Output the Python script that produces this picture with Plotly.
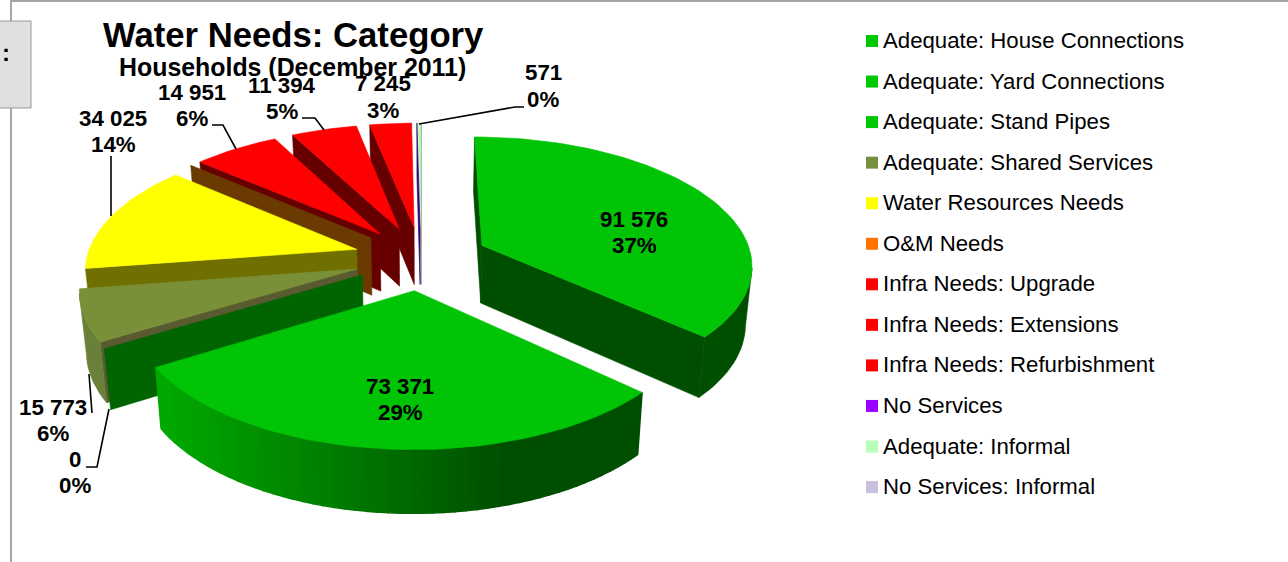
import math
import plotly.graph_objects as go

categories = ["Adequate: House Connections", "Adequate: Yard Connections", "Adequate: Stand Pipes",
              "Adequate: Shared Services", "Water Resources Needs", "O&M Needs", "Infra Needs: Upgrade",
              "Infra Needs: Extensions", "Infra Needs: Refurbishment", "No Services",
              "Adequate: Informal", "No Services: Informal"]
households = [91576, 73371, 0, 15773, 34025, 0, 14951, 11394, 7245, 0, 571, 0]
legend_colors = ["#00C800", "#00C800", "#00C800", "#778F3F", "#FFFF00", "#FF7400", "#FF0000", "#FF0000",
                 "#FF0000", "#9900FF", "#B8FFB8", "#C8C0DC"]
top_colors = ["#00C405", "#00C405", "#00C405", "#7A9038", "#FFFF00", "#FF7400", "#FF0000", "#FF0000",
              "#FF0000", "#9900FF", "#B8FFB8", "#C8C0DC"]
wall_colors = ["#004F00", "#004F00", "#006400", "#5A5A30", "#707000", "#6B3A00", "#660000", "#660000",
               "#660000", "#3A0080", "#90D090", "#6C6480"]
outer_wall_colors = ["#004F00", "#00A000", "#006400", "#6A7F38", "#707000", "#6B3A00", "#660000", "#660000",
                     "#660000", "#3A0080", "#90D090", "#6C6480"]
# value-label placement: category index, centre x, value-line y, percent-line y
label_slots = [(0, 634, 219, 245), (1, 400, 386, 412), (2, 75, 459, 485), (3, 53, 407, 433), (4, 113, 118, 144),
               (6, 192, 92, 118), (7, 282, 85, 111), (8, 383, 83, 110), (10, 543, 72, 99)]
leaders = [[(111, 156), (111, 216)], [(212, 125), (223, 125), (236, 149)], [(302, 118), (315, 118), (324, 130)],
           [(524, 107), (515, 107), (419, 124)], [(92, 413), (89, 374)], [(86, 467), (97, 467), (109, 409)]]

CX, CY, RX, RY, P, PULL, DEPTH, BASE_SHRINK = 421, 258, 270, 126.8, 0.139, 0.25, 58, 0.98
total = sum(households)


def project(X, Y, down=False):
    s = 1 / (1 - P * Y)
    px = CX + RX * X * s
    py = CY + RY * Y * s
    if down:
        py += DEPTH * s ** 0.5
        px = CX + (px - CX) * BASE_SHRINK
    return px, py


def mix(a, b, t):
    t = max(0, min(1, t))
    ca = [int(a[i:i + 2], 16) for i in (1, 3, 5)]
    cb = [int(b[i:i + 2], 16) for i in (1, 3, 5)]
    return "#%02X%02X%02X" % tuple(round(x + (y - x) * t) for x, y in zip(ca, cb))


fig = go.Figure()


def poly(points, color, name, width=0.6):
    fig.add_trace(go.Scatter(x=[p[0] for p in points] + [points[0][0]], y=[p[1] for p in points] + [points[0][1]],
                             mode="lines", fill="toself", fillcolor=color, line=dict(color=color, width=width),
                             hoverinfo="skip", showlegend=False, name=name))


def quad(a, b, color, name, width=0.6):
    poly([project(*a), project(*b), project(*b, True), project(*a, True)], color, name, width)


spans = []
acc = 0
for v in households:
    spans.append((acc / total * 2 * math.pi, (acc + v) / total * 2 * math.pi))
    acc += v

order = [11, 10, 9, 8, 7, 6, 5, 4, 3, 2, 1, 0]
for i in order:
    a0, a1 = spans[i]
    mid = (a0 + a1) / 2
    ox, oy = PULL * math.sin(mid), -PULL * math.cos(mid)
    n = max(2, int((a1 - a0) / math.radians(2)))
    rim = [(ox + math.sin(a0 + (a1 - a0) * k / n), oy - math.cos(a0 + (a1 - a0) * k / n)) for k in range(n + 1)]
    apex = (ox, oy)
    name = categories[i]
    if households[i] == 0:
        quad(apex, rim[0], wall_colors[i], name)
        continue
    for a, b in ((apex, rim[0]), (rim[-1], apex)):
        if project(*b)[0] < project(*a)[0]:
            quad(a, b, wall_colors[i], name)
    visible = [k for k in range(n) if project(*rim[k + 1])[0] < project(*rim[k])[0]]
    if visible and i == 1:
        for k in visible:
            a, b = rim[k], rim[k + 1]
            color = mix("#00A800", "#004F00", (project(*a)[0] - 170) / 340)
            quad(a, b, color, name, 1.4)
    elif visible:
        path = [rim[k] for k in visible] + [rim[visible[-1] + 1]]
        top = [project(*r) for r in path]
        bottom = [project(*r, True) for r in reversed(path)]
        poly(top + bottom, outer_wall_colors[i], name)
    poly([project(*apex)] + [project(*r) for r in rim], top_colors[i], name)

for path in leaders:
    fig.add_trace(go.Scatter(x=[p[0] for p in path], y=[p[1] for p in path], mode="lines",
                             line=dict(color="#000000", width=1.6), hoverinfo="skip", showlegend=False))

# key on the right: a square swatch and its name for every category
for k, (name, color) in enumerate(zip(categories, legend_colors)):
    row_y = 41 + 40.55 * k
    fig.add_trace(go.Scatter(x=[872], y=[row_y], mode="markers", name=name, hoverinfo="skip", showlegend=False,
                             marker=dict(symbol="square", size=12, color=color)))
    fig.add_trace(go.Scatter(x=[883], y=[row_y + 1.5], mode="text", name=name, text=[name],
                             textposition="middle right", hoverinfo="skip", showlegend=False,
                             textfont=dict(family="Liberation Sans", size=22.2, color="#000000")))

annotations = [
    dict(x=293, y=35, text="<b>Water Needs: Category</b>", font_size=34.7),
    dict(x=292, y=67, text="<b>Households (December 2011)</b>", font_size=24.9),
    dict(x=6, y=52, text="<b>:</b>", font_size=24),
]
for idx, x, y1, y2 in label_slots:
    value = f"{households[idx]:,}".replace(",", " ")
    pct = f"{round(households[idx] / total * 100)}%"
    annotations.append(dict(x=x, y=y1, text=f"<b>{value}</b>", font_size=22.3))
    annotations.append(dict(x=x, y=y2, text=f"<b>{pct}</b>", font_size=22.3))
ann = []
for a in annotations:
    size = a.pop("font_size")
    ann.append(dict(a, xref="x", yref="y", showarrow=False, xanchor="center", yanchor="middle",
                    font=dict(family="Liberation Sans", size=size, color="#000000")))

shapes = [
    dict(type="line", xref="x", yref="y", x0=10, x1=1288, y0=1, y1=1, line=dict(color="#A6A6A6", width=2), layer="below"),
    dict(type="line", xref="x", yref="y", x0=11, x1=11, y0=0, y1=562, line=dict(color="#A6A6A6", width=2), layer="below"),
    dict(type="rect", xref="x", yref="y", x0=-3, x1=31, y0=21, y1=108, fillcolor="#E0E0E0",
         line=dict(color="#999999", width=1), layer="below"),
]

fig.update_layout(
    width=1288, height=562, autosize=False, margin=dict(l=0, r=0, t=0, b=0),
    paper_bgcolor="#FFFFFF", plot_bgcolor="#FFFFFF", showlegend=False,
    xaxis=dict(range=[0, 1288], visible=False, fixedrange=True),
    yaxis=dict(range=[562, 0], visible=False, fixedrange=True),
    annotations=ann, shapes=shapes,
)
fig.write_html("out.html", config={"displayModeBar": False},
               post_script="document.body.style.margin='0';document.body.style.overflow='hidden';")
